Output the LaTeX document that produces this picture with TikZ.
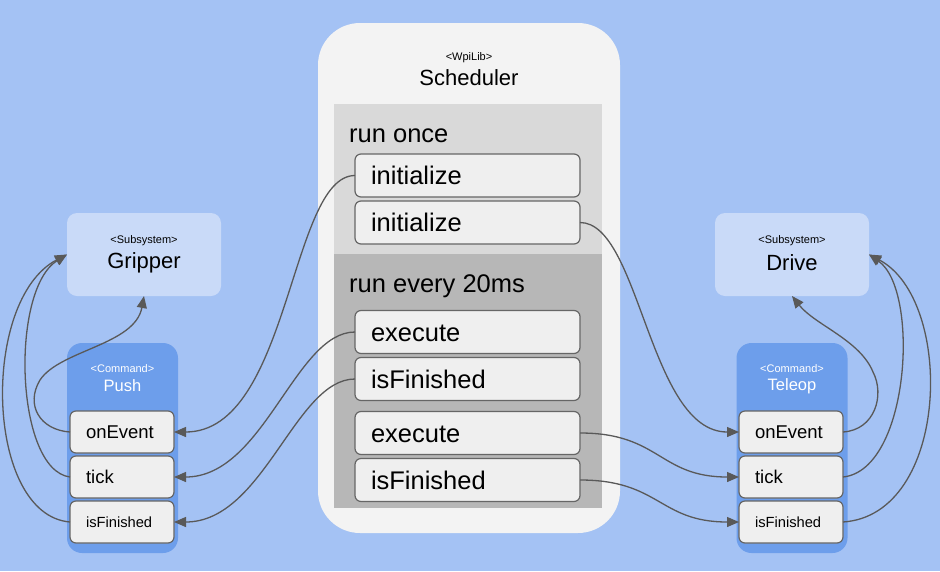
\documentclass[tikz,border=0pt]{standalone}
\usepackage{fontspec}
\setmainfont{Liberation Sans}
\usepackage{tikz}
\usetikzlibrary{positioning, arrows.meta}
\definecolor{bgblue}{HTML}{A4C2F4}
\definecolor{subblue}{HTML}{C9DAF8}
\definecolor{cmdblue}{HTML}{6D9EEB}
\definecolor{schedgray}{HTML}{F3F3F3}
\definecolor{oncegray}{HTML}{D9D9D9}
\definecolor{loopgray}{HTML}{B7B7B7}
\definecolor{methodfill}{HTML}{EFEFEF}
\definecolor{methodline}{HTML}{666666}
\definecolor{wiregray}{HTML}{595959}
\tikzset{
  container/.style = {rectangle, inner sep=0pt, outer sep=0pt},
  sched/.style     = {container, fill=schedgray, rounded corners=42pt, minimum width=302pt, minimum height=510pt},
  panel/.style     = {container, minimum width=268pt},
  subsys/.style    = {container, fill=subblue, rounded corners=10pt, minimum width=154pt, minimum height=83pt},
  command/.style   = {container, fill=cmdblue, rounded corners=15pt, minimum width=111pt, minimum height=210pt},
  method/.style    = {rectangle, draw=methodline, fill=methodfill, line width=1.2pt, rounded corners=6pt,
                      outer sep=0pt, inner xsep=16pt, inner ysep=0pt, align=left, text depth=0pt},
  bigmethod/.style = {method, text width=193pt, minimum height=43pt, text height=18pt, font=\fontsize{25.5}{30}\selectfont},
  cmdmethod/.style = {method, text width=72pt, minimum height=42pt, text height=13pt, font=\fontsize{18.5}{22}\selectfont},
  smallmethod/.style = {cmdmethod, text height=10.5pt, font=\fontsize{14.7}{18}\selectfont},
  tag/.style       = {inner sep=0pt, font=\fontsize{11}{13}\selectfont},
  title/.style     = {inner sep=0pt, font=\fontsize{22}{26}\selectfont},
  cmdtitle/.style  = {inner sep=0pt, text=white, font=\fontsize{16.5}{20}\selectfont},
  phase/.style     = {inner sep=0pt, anchor=west, text height=18pt, text depth=0pt, font=\fontsize{25.5}{30}\selectfont},
  wire/.style      = {-{Triangle[length=12pt, width=10pt]}, line width=1.3pt, draw=wiregray},
  link/.style      = {line width=1.3pt, draw=wiregray},
}

\begin{document}
\begin{tikzpicture}[x=1pt, y=-1pt]
    % background
    \fill[bgblue] (0,0) rectangle (940,571);
    \useasboundingbox (0,0) rectangle (940,571);

    % scheduler
    \node[sched] (sched) at (469,278) {};
    \node[tag]   (schedtag)   at (469,58) {<WpiLib>};
    \node[title] (schedtitle) at (469,78) {Scheduler};
    \node[panel, fill=oncegray, minimum height=150pt] (once) at (468,179) {};
    \node[panel, fill=loopgray, minimum height=254pt] (every) at (468,381) {};
    \node[phase] (oncelabel)  at (349,133) {run once};
    \node[phase] (everylabel) at (349,283) {run every 20ms};

    \node[bigmethod] (init1) at (467.5,175.5) {initialize};
    \node[bigmethod, below=4pt of init1] (init2) {initialize};
    \node[bigmethod] (exec1) at (467.5,332) {execute};
    \node[bigmethod, below=4pt of exec1] (fin1) {isFinished};
    \node[bigmethod, below=11pt of fin1] (exec2) {execute};
    \node[bigmethod, below=4pt of exec2] (fin2) {isFinished};

    % gripper side
    \node[subsys] (gripper) at (144,254.5) {};
    \node[tag]   (grippertag)   at (144,241) {<Subsystem>};
    \node[title] (grippertitle) at (144,263) {Gripper};
    \node[command] (push) at (122.5,448) {};
    \node[tag, text=white] (pushtag) at (122.5,369) {<Command>};
    \node[cmdtitle] (pushtitle) at (122.5,386) {Push};
    \node[cmdmethod] (pushevent) at (122,432) {onEvent};
    \node[cmdmethod, below=3pt of pushevent] (pushtick) {tick};
    \node[smallmethod, below=3pt of pushtick] (pushfin) {isFinished};

    % drive side
    \node[subsys] (drive) at (792,254.5) {};
    \node[tag]   (drivetag)   at (792,241) {<Subsystem>};
    \node[title] (drivetitle) at (792,263) {Drive};
    \node[command] (teleop) at (792,448) {};
    \node[tag, text=white] (teleoptag) at (792,369) {<Command>};
    \node[cmdtitle] (teleoptitle) at (792,386) {Teleop};
    \node[cmdmethod] (teleevent) at (791,432) {onEvent};
    \node[cmdmethod, below=3pt of teleevent] (teletick) {tick};
    \node[smallmethod, below=3pt of teletick] (telefin) {isFinished};

    % scheduler calls
    \draw[wire] (init1.west) .. controls +(-65,0) and +(116,0) .. (pushevent.east);
    \draw[wire] (exec1.west) .. controls +(-60,0) and +(90,0) .. (pushtick.east);
    \draw[wire] (fin1.west)  .. controls +(-60,0) and +(90,0) .. (pushfin.east);
    \draw[wire] (init2.east) .. controls +(60,0) and +(-90,0) .. (teleevent.west);
    \draw[wire] (exec2.east) .. controls +(80,0) and +(-80,0) .. (teletick.west);
    \draw[wire] (fin2.east)  .. controls +(80,0) and +(-80,0) .. (telefin.west);

    % commands use their subsystem
    \coordinate (pushbend) at (40,380);
    \draw[link] (pushevent.west) .. controls (40,430) and (25,405) .. (pushbend);
    \draw[wire] (pushbend) .. controls (60,350) and (135,345) .. (gripper.south);
    \draw[wire] (pushtick.west) .. controls (15,470) and (10,290) .. (gripper.west);
    \draw[wire] (pushfin.west)  .. controls (-15,515) and (-20,300) .. (gripper.west);

    \coordinate (telebend) at (873,372);
    \draw[link] (teleevent.east) .. controls (875,430) and (885,395) .. (telebend);
    \draw[wire] (telebend) .. controls (860,340) and (815,325) .. (drive.south);
    \draw[wire] (teletick.east) .. controls (910,470) and (920,290) .. (drive.east);
    \draw[wire] (telefin.east)  .. controls (950,515) and (955,300) .. (drive.east);
\end{tikzpicture}
\end{document}
